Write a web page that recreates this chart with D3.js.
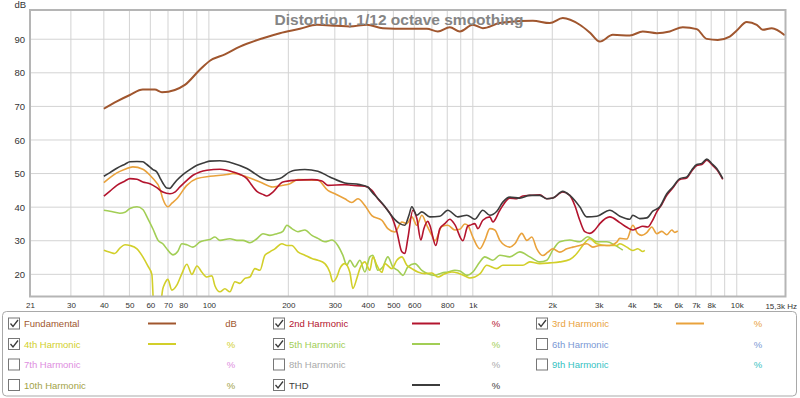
<html>

<head>
  <script src="https://d3js.org/d3.v7.min.js"></script>
  <style>
    body { margin: 0; background: white; }
    text { font-family: "Liberation Sans", Arial, sans-serif; }
  </style>
</head>

<body>
  <svg id="chart" width="800" height="398" style="background: white;"></svg>

  <script>
    // [frequency Hz, level dB]
    const fundamental = [[40,69.3],[44.8,71.5],[50.2,73.4],[56.2,75],[62.4,75],[66.4,74.2],[74.3,74.9],[81.1,76.4],[92.4,80.9],[100.9,83.6],[115,85.5],[131.1,87.8],[160.2,90.3],[185.7,91.8],[221.2,93.1],[256.6,94.3],[305.3,94],[342,93.8],[396.8,94.3],[456.1,93.3],[562.3,93.1],[669.6,93.1],[737,92.3],[818.3,93.6],[892.9,92.3],[1000,94.3],[1091,93.3],[1266,94.8],[1688,95.5],[1957,94.8],[2192,96.3],[2542,94.3],[2774,92],[3028,89.3],[3391,91.3],[3934,91.1],[4405,92.3],[4977,91.8],[5575,92.3],[6245,93.6],[7055,93],[7697,90.1],[8472,89.8],[9408,90.8],[10000,92.6],[10911,95.1],[11908,94.3],[12545,92.8],[13573,93.3],[15200,91.2]];

    const harmonic2 = [[40,43.3],[42.2,44.8],[44.8,46.5],[48.1,47.8],[50.2,48.5],[53.4,48.3],[56.2,47.5],[59.8,47],[63.5,45.8],[66.9,44.5],[71.2,44],[74.3,44.5],[77.6,46],[82.5,48],[87,49.5],[92.4,50.5],[98.3,51],[110.1,51.3],[123.3,50.5],[139.3,48.5],[145.5,46.5],[152,44.7],[160.2,43.8],[165.9,43.3],[174.8,44.5],[190.7,47.5],[211.8,48],[245.6,48.2],[267.9,47.8],[282.3,46.5],[327.4,46.7],[348.1,46.5],[389.9,46.2],[414.4,45],[436.7,42.5],[464.2,40.1],[493.5,37.1],[515.4,32.7],[538.4,26.7],[552.6,26.2],[567.3,30.7],[592.6,39.1],[613.6,36.6],[635.4,30.2],[652.3,33.6],[675.3,35.8],[687.3,34.6],[724.1,28.6],[749.9,33.6],[783.3,35.1],[818.3,36.4],[854.8,34.8],[916.6,30],[957.4,34.4],[974,34.6],[1018,35.1],[1045,33.6],[1091,36.1],[1160,37.1],[1191,35.6],[1266,39.1],[1381,42.7],[1468,42.5],[1547,43.3],[1644,43.5],[1794,43.7],[1907,42.5],[2009,42.7],[2192,44.5],[2330,43.5],[2435,40.5],[2542,36.1],[2656,32.7],[2774,32.2],[2898,33.2],[3028,35.1],[3303,37.1],[3605,35.4],[3832,34],[4038,33.2],[4217,33.8],[4405,34.3],[4602,34.1],[4764,35.6],[4977,38.6],[5199,40.8],[5431,43.5],[5723,45.7],[6084,48.2],[6467,48.7],[6754,50.8],[7055,52.4],[7370,52.7],[7697,54],[8039,52.7],[8397,51.2],[8851,48.3]];

    const harmonic3 = [[40,47.3],[42.2,48.8],[44.8,50.2],[48.1,51.3],[51.5,52],[56.2,51.3],[59.8,49.5],[61.4,48.5],[65.2,45.5],[66.9,42.5],[69.9,40.1],[72.4,41.2],[75.6,42.5],[82.5,46.5],[90.1,48.5],[100.9,49.2],[117,49.7],[123.3,50],[139.3,49],[156.1,47.5],[174.8,46],[190.7,46.5],[202.7,47],[217.4,48.2],[258.8,48],[282.3,45],[300.1,44],[327.4,42.5],[348.1,41.4],[366.8,42.5],[389.9,40.5],[414.4,37.5],[452.2,36.1],[476.5,33.6],[506.5,32.6],[538.4,35.6],[562.3,35.1],[587.4,37.1],[613.6,34.6],[641,37.6],[669.6,34.6],[699.4,31.6],[718,30],[763.1,34.2],[804.1,34.6],[854.8,33.2],[892.9,33.4],[932.6,35],[957.4,34.6],[1000,31.1],[1063,27.6],[1110,30.1],[1160,33.6],[1212,33.2],[1266,30.1],[1322,28.6],[1381,28.1],[1443,29.1],[1533,32.2],[1602,30.1],[1673,31.1],[1747,27.6],[1842,25.6],[1924,26.6],[2009,27.6],[2136,26.6],[2270,27.6],[2392,28.1],[2542,28.6],[2702,29.1],[2848,28.1],[3028,28.6],[3303,28.6],[3512,29.6],[3605,30.7],[3832,30.5],[4038,34.6],[4217,32.1],[4367,31.6],[4562,32.4],[4764,34.1],[4977,32.1],[5199,32.8],[5431,31.8],[5673,33.2],[5824,32.5],[5978,32.9]];

    const harmonic4 = [[40,27.2],[42.2,26.6],[44,26.2],[46,27.8],[48.1,28.8],[50.2,28.6],[53.4,27.6],[56.2,25.2],[58.7,22.5],[60.8,20],[61.9,10],[65.2,10],[66.9,15.7],[68.1,17.3],[69.9,18.5],[72.4,15.3],[75.6,16.8],[79,20.2],[82.5,23],[86.2,20],[90.1,22.5],[94.1,20.6],[98.3,19.2],[102.7,19.6],[105.4,16.6],[110.1,14.8],[115,15.7],[120.1,14.8],[125.5,17.8],[131.1,17.3],[136.9,18.8],[143,19.2],[149.4,21.7],[156.1,21.2],[163,25.7],[170.3,26.7],[177.8,27.6],[189,29.1],[197.5,28.6],[206.3,28.6],[217.4,26.7],[231,25.7],[245.6,24.7],[258.8,24.2],[275,23.2],[287.3,20.6],[294.9,17.8],[305.3,19.2],[313.4,21.7],[327.4,23.2],[342,20.6],[351.2,15.8],[363.6,18.8],[373.3,21.7],[389.9,23.7],[407.2,21.2],[418,25.2],[432.9,22.7],[452.2,20.6],[464.2,23.2],[493.5,21.7],[515.4,24.2],[538.4,25.2],[562.3,22.7],[587.4,21.7],[619,20.7],[658,20.2],[699.4,20.4],[737,19.2],[783.3,20.2],[832.7,20.7],[877.5,20.4],[932.6,19.5],[974,18.9],[1063,20.1],[1130,22.7],[1233,21.7],[1299,22.7],[1418,22.7],[1547,22.7],[1644,23.7],[1794,23.2],[1957,23.4],[2136,23.7],[2330,24.4],[2477,26.2],[2610,28.6],[2775,30.6],[2950,29.1],[3218,28.6],[3512,28.6],[3605,29.1],[3832,28.1],[4038,27.1],[4217,27.6],[4405,26.8],[4483,27.1]];

    const harmonic5 = [[40,39.1],[42.2,38.8],[46,38.2],[48.1,38.5],[50.2,39.6],[53.4,40.1],[56.2,39.3],[58.7,36.6],[61.4,33.5],[64.1,30.2],[66.9,29.1],[69.9,27.2],[73.1,25.8],[76.3,26.9],[79,29.1],[82.5,28.8],[87,28.1],[92.4,29.6],[96.6,30.1],[100.9,30.4],[105.4,31.1],[110.1,30.1],[120.1,30.6],[127.7,30.1],[134.6,30.1],[143,29.4],[152,30.6],[160.2,32.1],[170.3,31.6],[180.9,32.1],[190.7,32.8],[197.5,34.6],[206.3,33.6],[217.4,32.7],[231,33.2],[245.6,31.6],[258.8,30.7],[275,29.7],[292.4,30.2],[308,28.6],[321.7,25.7],[333.2,22.7],[342,24.2],[357.3,22.2],[373.3,24.2],[389.9,20.7],[407.2,25.2],[418,25.7],[436.7,21.2],[456.1,22.2],[476.5,25.2],[497.8,22.2],[519.9,21.2],[543.1,19.7],[567.3,22.2],[603,23.2],[641,21.2],[675.3,20.2],[718,19.7],[763.1,20.4],[804.1,20.7],[854.8,21.2],[892.9,21],[949,19.7],[1000,20.7],[1063,23.7],[1110,25.2],[1191,24.2],[1266,25.7],[1381,25.2],[1507,26.7],[1644,25.2],[1794,23.7],[1907,24.2],[2009,27.2],[2136,29.7],[2330,30.2],[2542,29.7],[2726,31.2],[2950,29.7],[3218,29.7],[3451,28.7],[3701,27.2]];

    const thd = [[40,49.2],[42.2,50.3],[44.8,51.6],[48.1,52.8],[50.2,53.5],[53.4,53.6],[56.2,53.5],[58.2,52.7],[61.4,51.2],[63.5,50.5],[65.2,48.8],[66.9,47.2],[69.3,45.7],[71.2,45.6],[73.1,46.6],[75.6,48],[79.7,49.7],[84.7,51.2],[90.1,52.5],[96.6,53.3],[100.9,53.7],[110.1,53.8],[123.3,53.1],[139.3,51.5],[149.4,50],[156.1,49],[170.3,48],[185.7,48.5],[202.7,50.5],[211.8,51],[231,51.2],[258.8,50.7],[287.3,49],[327.4,47.2],[373.3,46.7],[400.2,46],[414.4,44.5],[436.7,42.6],[464.2,40.2],[484.9,38.1],[506.5,36.3],[529.1,35.1],[552.6,34.6],[572.3,37.5],[587.4,40.1],[613.6,37.6],[641,38.6],[687.3,37.1],[749.9,37.3],[804.1,39.1],[877.5,37.1],[949,37.6],[1018,36.4],[1091,39.1],[1160,37.6],[1233,38.8],[1299,41.5],[1381,43],[1507,42.7],[1644,43.5],[1794,43.5],[1907,42.5],[2009,42.7],[2192,44.7],[2330,43.5],[2435,42],[2542,40.1],[2702,37.1],[2950,37.3],[3303,39.1],[3605,37.3],[3934,36.4],[4038,37.6],[4291,36.6],[4562,36.8],[4806,38.8],[5109,40.1],[5431,44],[5723,46],[6084,48.5],[6467,49],[6754,51.1],[7055,52.7],[7370,53],[7697,54.3],[8039,53],[8397,51.5],[8851,48.5]];

    // axes
    const yTicks = [20, 30, 40, 50, 60, 70, 80, 90];
    const xGrid = [30, 40, 50, 60, 70, 80, 90, 100, 200, 300, 400, 500, 600, 700, 800, 900,
      1000, 2000, 3000, 4000, 5000, 6000, 7000, 8000, 9000, 10000];
    const xLabels = [21, 30, 40, 50, 60, 70, 80, 100, 200, 300, 400, 500, 600, 800,
      1000, 2000, 3000, 4000, 5000, 6000, 7000, 8000, 10000];

    // legend
    const legendNames = ["Fundamental", "2nd Harmonic", "3rd Harmonic", "4th Harmonic", "5th Harmonic", "6th Harmonic",
      "7th Harmonic", "8th Harmonic", "9th Harmonic", "10th Harmonic", "THD"];
    const legendUnits = ["dB", "%", "%", "%", "%", "%", "%", "%", "%", "%", "%"];
    const legendColors = ["#a0562e", "#b3142e", "#e9a23c", "#d2cf2a", "#a2ce55", "#7a98d4",
      "#de8ee0", "#aaaaaa", "#35c2c2", "#a2a246", "#3c3c3c"];
    const legendChecked = [true, true, true, true, true, false, false, false, false, false, true];

    let svg = d3.select("svg#chart");
    const plotLeft = 30, plotRight = 785.5, plotTop = 10, plotBottom = 296.5;

    const x = d3.scaleLog().domain([21, 15300]).range([plotLeft, plotRight]);
    const y = d3.scaleLinear().domain([13.4, 98.7]).range([plotBottom, plotTop]);

    svg.append("defs").append("clipPath").attr("id", "plotclip")
      .append("rect")
      .attr("x", plotLeft).attr("y", plotTop)
      .attr("width", plotRight - plotLeft).attr("height", plotBottom - plotTop);

    // grid
    xGrid.forEach(f => {
      svg.append("line")
        .attr("x1", x(f)).attr("x2", x(f))
        .attr("y1", plotTop).attr("y2", plotBottom)
        .style("stroke", "#d3d3d3").style("stroke-width", 1);
    });
    yTicks.forEach(v => {
      svg.append("line")
        .attr("x1", plotLeft).attr("x2", plotRight)
        .attr("y1", y(v)).attr("y2", y(v))
        .style("stroke", "#d3d3d3").style("stroke-width", 1);
    });

    // axis labels
    let yAxis = d3.axisLeft(y).tickValues(yTicks).tickSize(0).tickPadding(4);
    let gy = svg.append("g").attr("transform", `translate(${plotLeft - 1},0)`).call(yAxis);
    gy.select(".domain").remove();
    gy.selectAll("text").style("font-size", "9.5px").style("fill", "#333")
      .style("font-family", '"Liberation Sans", Arial, sans-serif');

    svg.append("text").attr("x", 26).attr("y", 7.5).attr("text-anchor", "end")
      .style("font-size", "9.5px").style("fill", "#333").text("dB");

    let xAxis = d3.axisBottom(x).tickValues(xLabels).tickSize(0).tickPadding(6)
      .tickFormat(d => d >= 1000 ? (d / 1000) + "k" : d);
    let gx = svg.append("g").attr("transform", `translate(0,${plotBottom})`).call(xAxis);
    gx.select(".domain").remove();
    gx.selectAll("text").style("font-size", "8px").style("fill", "#333")
      .style("font-family", '"Liberation Sans", Arial, sans-serif');

    svg.append("text").attr("x", 797).attr("y", plotBottom + 12.5).attr("text-anchor", "end")
      .style("font-size", "8px").style("fill", "#333").text("15,3k Hz");

    // curves
    const line = d3.line().x(d => x(d[0])).y(d => y(d[1])).curve(d3.curveMonotoneX);
    let plot = svg.append("g").attr("clip-path", "url(#plotclip)");

    const series = [
      [fundamental, 0, 2],
      [harmonic5, 4, 1.6],
      [harmonic4, 3, 1.6],
      [harmonic3, 2, 1.6],
      [harmonic2, 1, 1.6],
      [thd, 10, 1.6]
    ];
    series.forEach(s => {
      plot.append("path")
        .attr("d", line(s[0]))
        .attr("fill", "none")
        .attr("stroke", legendColors[s[1]])
        .attr("stroke-width", s[2])
        .attr("stroke-linejoin", "round");
    });

    // plot frame
    svg.append("rect")
      .attr("x", plotLeft).attr("y", plotTop)
      .attr("width", plotRight - plotLeft).attr("height", plotBottom - plotTop)
      .attr("fill", "none").attr("stroke", "#b5b5b5").attr("stroke-width", 2);

    // title
    svg.append("text")
      .attr("x", 399).attr("y", 24.5).attr("text-anchor", "middle")
      .style("font-size", "15.5px").style("font-weight", "bold").style("fill", "#858585")
      .text("Distortion, 1/12 octave smoothing");

    // legend box
    svg.append("rect")
      .attr("x", 2.5).attr("y", 311.5).attr("width", 794).attr("height", 84.5).attr("rx", 4)
      .attr("fill", "white").attr("stroke", "#a9a9a9").attr("stroke-width", 1);

    const rowY = [323.5, 344, 364.5, 385];
    const colBox = [8, 273, 536];
    const colLine = [148, 412, 676];
    const colUnit = [231, 496, 758];

    legendNames.forEach((name, i) => {
      const r = Math.floor(i / 3), c = i % 3;
      const cy = rowY[r];
      const bx = colBox[c];

      svg.append("rect")
        .attr("x", bx + 0.5).attr("y", cy - 5.5).attr("width", 11).attr("height", 11)
        .attr("fill", "white").attr("stroke", "#777").attr("stroke-width", 1);
      if (legendChecked[i]) {
        svg.append("path")
          .attr("d", `M${bx + 2.5},${cy} L${bx + 5},${cy + 3} L${bx + 10},${cy - 3.5}`)
          .attr("fill", "none").attr("stroke", "#3a3a3a").attr("stroke-width", 1.3);
        svg.append("line")
          .attr("x1", colLine[c]).attr("x2", colLine[c] + 28)
          .attr("y1", cy).attr("y2", cy)
          .attr("stroke", legendColors[i]).attr("stroke-width", 2);
      }
      svg.append("text")
        .attr("x", bx + 16).attr("y", cy + 3.5)
        .style("font-size", "9.5px").style("fill", legendColors[i])
        .text(name);
      svg.append("text")
        .attr("x", colUnit[c]).attr("y", cy + 3.5).attr("text-anchor", "middle")
        .style("font-size", "9.5px").style("fill", legendColors[i])
        .text(legendUnits[i]);
    });
  </script>
</body>

</html>
